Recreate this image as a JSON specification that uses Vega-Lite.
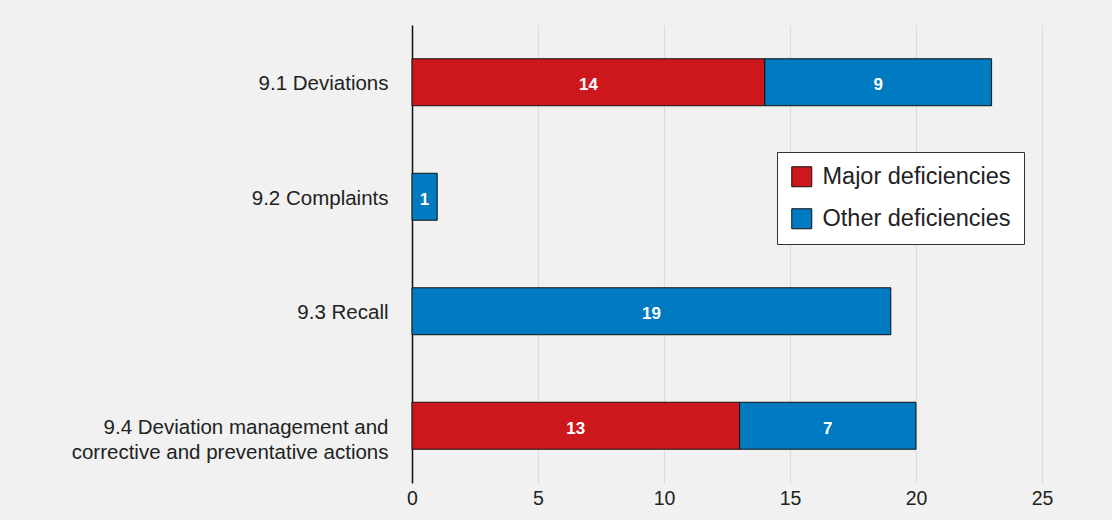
{
  "$schema": "https://vega.github.io/schema/vega-lite/v6.json",
  "autosize": {"type": "none"},
  "width": 630,
  "height": 458,
  "padding": {"left": 412, "top": 25, "right": 70, "bottom": 37},
  "background": "#f1f1f1",
  "config": {"view": {"stroke": null}},
  "data": {"values": [
    {"cat": "9.1 Deviations", "type": "Major deficiencies", "ord": 1, "value": 14},
    {"cat": "9.1 Deviations", "type": "Other deficiencies", "ord": 2, "value": 9},
    {"cat": "9.2 Complaints", "type": "Other deficiencies", "ord": 2, "value": 1},
    {"cat": "9.3 Recall", "type": "Other deficiencies", "ord": 2, "value": 19},
    {"cat": "9.4 Deviation management and |corrective and preventative actions", "type": "Major deficiencies", "ord": 1, "value": 13},
    {"cat": "9.4 Deviation management and |corrective and preventative actions", "type": "Other deficiencies", "ord": 2, "value": 7}
  ]},
  "transform": [
    {"stack": "value", "groupby": ["cat"], "sort": [{"field": "ord", "order": "ascending"}], "as": ["x0", "x1"]},
    {"calculate": "(datum.x0 + datum.x1) / 2", "as": "mid"}
  ],
  "encoding": {
    "y": {
      "field": "cat", "type": "nominal", "sort": null, "title": null,
      "scale": {"paddingInner": 0.59, "paddingOuter": 0.295},
      "axis": {
        "labelExpr": "split(datum.label, '|')",
        "labelFontSize": 20.5, "labelColor": "#222222", "labelFont": "Liberation Sans",
        "labelPadding": 24, "labelLimit": 500, "labelLineHeight": 25, "labelOffset": 2,
        "ticks": false, "domain": true, "domainColor": "#111111", "domainWidth": 1.5,
        "grid": false
      }
    }
  },
  "layer": [
    {
      "mark": {"type": "bar", "stroke": "#111111", "strokeWidth": 1},
      "encoding": {
        "x": {
          "field": "x0", "type": "quantitative", "title": null,
          "scale": {"domain": [0, 25], "nice": false},
          "axis": {
            "values": [0, 5, 10, 15, 20, 25], "domain": false, "ticks": false,
            "grid": true, "gridColor": "#dcdcdc", "gridWidth": 1.2,
            "labelFontSize": 19.5, "labelColor": "#222222", "labelFont": "Liberation Sans",
            "labelPadding": 6, "labelFlush": false
          }
        },
        "x2": {"field": "x1"},
        "color": {
          "field": "type", "type": "nominal", "title": null,
          "scale": {"domain": ["Major deficiencies", "Other deficiencies"], "range": ["#cc181c", "#007ac1"]},
          "legend": {
            "orient": "none", "legendX": 365, "legendY": 127,
            "symbolType": "square", "symbolSize": 400, "symbolStrokeColor": "#111111", "symbolStrokeWidth": 1,
            "symbolOpacity": 1,
            "labelFontSize": 23.5, "labelColor": "#222222", "labelFont": "Liberation Sans",
            "labelLimit": 400, "labelOffset": 9,
            "rowPadding": 17, "padding": 13,
            "fillColor": "#ffffff", "strokeColor": "#333333"
          }
        },
        "order": {"field": "ord"}
      }
    },
    {
      "mark": {"type": "text", "color": "#ffffff", "fontSize": 17, "fontWeight": "bold", "font": "Liberation Sans", "baseline": "middle", "dy": 3},
      "encoding": {
        "x": {"field": "mid", "type": "quantitative"},
        "text": {"field": "value", "type": "quantitative"}
      }
    }
  ]
}
